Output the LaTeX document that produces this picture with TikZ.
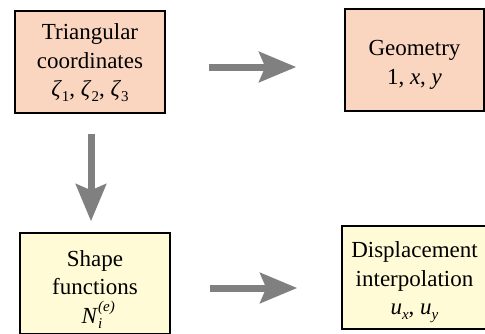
\documentclass[tikz,border=0pt]{standalone}
\usepackage{fontspec}
\setmainfont{Liberation Serif}
\usetikzlibrary{arrows.meta}
\definecolor{salmon}{RGB}{250,214,192}
\definecolor{paleyel}{RGB}{255,251,214}
\definecolor{arrgray}{RGB}{128,128,128}
\newcommand{\lowidx}[1]{\raisebox{-0.22em}{\fontsize{15}{15}\selectfont #1}}
\newcommand{\highidx}[1]{\raisebox{0.5em}{\fontsize{15}{15}\selectfont #1}}
\begin{document}
\begin{tikzpicture}[x=1pt,y=-1pt,
  box/.style={draw=black, line width=1.5pt, inner sep=0pt},
  txt/.style={align=center, inner sep=0pt, font=\fontsize{23}{28.5}\selectfont},
  bigarrow/.style={draw=arrgray, line width=7pt,
    -{Stealth[length=37pt,width=30pt,inset=6pt,fill=arrgray]}}]
\useasboundingbox (0,0) rectangle (485,333);
\node[box, fill=salmon, minimum width=150pt, minimum height=102pt] (tri) at (90,62) {};
\node[txt] (triT) at ([shift={(0,1)}]tri.center)
  {Triangular\\coordinates\\\textit{ζ}\lowidx{1}, \textit{ζ}\lowidx{2}, \textit{ζ}\lowidx{3}};
\node[box, fill=salmon, minimum width=139pt, minimum height=102pt] (geo) at (414.5,60) {};
\node[txt] (geoT) at ([shift={(0,5)}]geo.center) {Geometry\\1, \textit{x}, \textit{y}};
\node[box, fill=paleyel, minimum width=150pt, minimum height=101pt] (shp) at (95,283.5) {};
\node[txt] (shpT) at ([shift={(0,6)}]shp.center)
  {Shape\\functions\\\hspace*{10pt}\textit{N}\makebox[0pt][l]{\highidx{\textit{(e)}}}\lowidx{\textit{i}}\hspace*{16pt}};
\node[box, fill=paleyel, minimum width=145pt, minimum height=103pt] (disp) at (414.5,277.5) {};
\node[txt] (dispT) at ([shift={(0,5)}]disp.center)
  {Displacement\\interpolation\\\textit{u}\lowidx{\textit{x}}, \textit{u}\lowidx{\textit{y}}};
\draw[bigarrow] ([shift={(43,5)}]tri.east) -- ([shift={(-48,7)}]geo.west);
\draw[bigarrow] ([shift={(1,20)}]tri.south) -- ([shift={(-4,-11)}]shp.north);
\draw[bigarrow] ([shift={(39,4.5)}]shp.east) -- ([shift={(-44,10.5)}]disp.west);
\end{tikzpicture}
\end{document}
